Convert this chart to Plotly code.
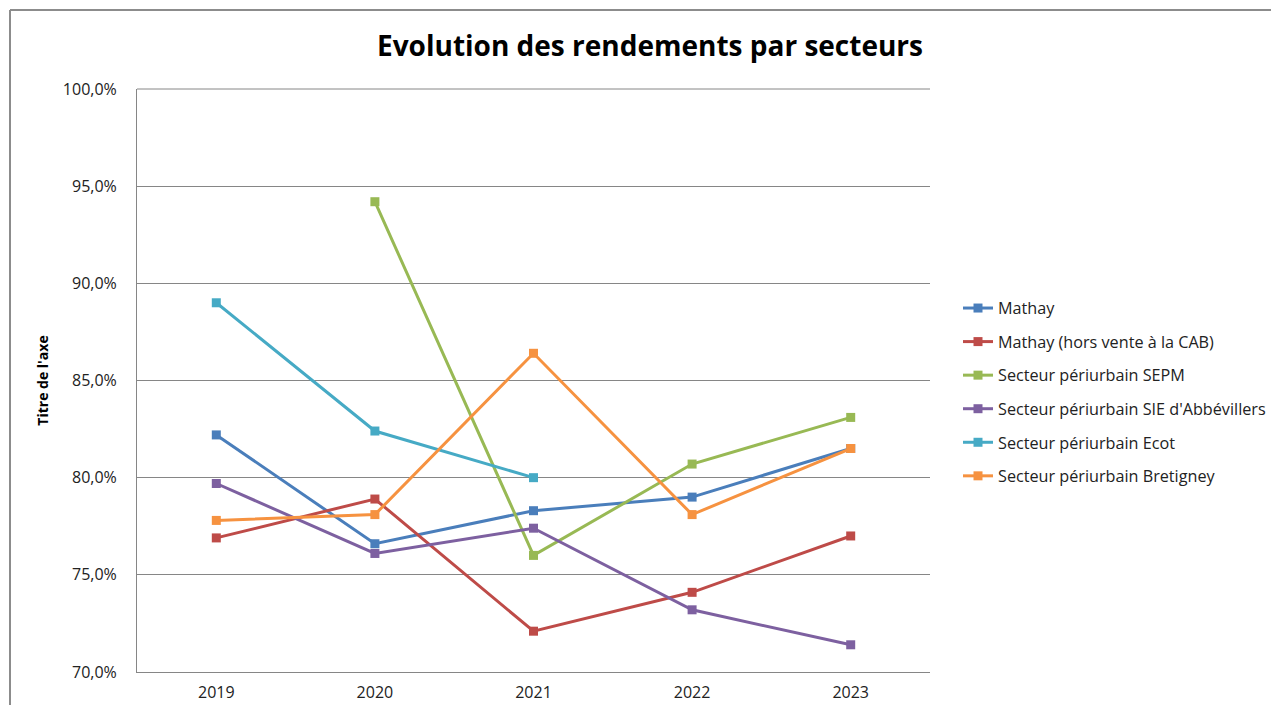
import plotly.graph_objects as go

years = ["2019", "2020", "2021", "2022", "2023"]
mathay = [0.822, 0.766, 0.783, 0.790, 0.815]
mathay_hors = [0.769, 0.789, 0.721, 0.741, 0.770]
sepm = [None, 0.942, 0.760, 0.807, 0.831]
sie = [0.797, 0.761, 0.774, 0.732, 0.714]
ecot = [0.890, 0.824, 0.800, None, None]
bretigney = [0.778, 0.781, 0.864, 0.781, 0.815]

series = [
    ("Mathay", mathay, "#4A7EBB"),
    ("Mathay (hors vente à la CAB)", mathay_hors, "#BE4B48"),
    ("Secteur périurbain SEPM", sepm, "#98B954"),
    ("Secteur périurbain SIE d'Abbévillers", sie, "#7D60A0"),
    ("Secteur périurbain Ecot", ecot, "#46AAC5"),
    ("Secteur périurbain Bretigney", bretigney, "#F69240"),
]

fig = go.Figure()
for i, (name, vals, col) in enumerate(series):
    fig.add_trace(go.Scatter(
        x=years, y=vals, name=name, mode="lines+markers",
        line=dict(color=col, width=3),
        marker=dict(symbol="square", size=9, color=col),
        legendgroup=str(i),
    ))

# page body has an 8px margin: figure coordinates = screen - 8
OFF = 8
W, H = 1263, 697
L, T = 137 - OFF, 89 - OFF
R = W - (930 - OFF)
B = H - (672 - OFF)
pw, ph = W - L - R, H - T - B

def px(sx):
    return (sx - OFF - L) / pw

def py(sy):
    return 1 - (sy - OFF - T) / ph

fig.update_layout(
    width=W, height=H,
    margin=dict(l=L, r=R, t=T, b=B, autoexpand=False),
    paper_bgcolor="white", plot_bgcolor="white",
    separators=", ",
    font=dict(family="Open Sans, Liberation Sans, sans-serif", size=16, color="#222"),
    title=dict(text="<b>Evolution des rendements par secteurs</b>",
               x=(650 - OFF) / W, xanchor="center", y=1 - (46 - OFF) / H, yanchor="middle",
               font=dict(size=28, color="black")),
    showlegend=True,
    legend=dict(x=px(958), xanchor="left", y=py(291), yanchor="top",
                font=dict(size=16.2, color="#222"), tracegroupgap=9.5,
                bgcolor="rgba(0,0,0,0)"),
    xaxis=dict(type="category", range=[-0.5, 4.5], showgrid=False, automargin=False,
               showline=True, linecolor="#868686", linewidth=1,
               ticks="", ticklabelstandoff=6, tickfont=dict(size=16, color="#222"),
               zeroline=False),
    yaxis=dict(range=[0.70, 1.0], dtick=0.05, tickformat=".1%", automargin=False,
               showgrid=True, gridcolor="#868686", gridwidth=1,
               showline=True, linecolor="#868686", linewidth=1,
               zeroline=False, ticks="", ticklabelstandoff=16,
               tickfont=dict(size=16, color="#222"),
               title=dict(text="<b>Titre de l'axe</b>", font=dict(size=14, color="black"),
                          standoff=10)),
    shapes=[
        dict(type="line", xref="paper", yref="paper",
             x0=px(10), x1=px(1300), y0=py(10), y1=py(10),
             line=dict(color="#8c8c8c", width=2)),
        dict(type="line", xref="paper", yref="paper",
             x0=px(10), x1=px(10), y0=py(10), y1=py(740),
             line=dict(color="#8c8c8c", width=2)),
        dict(type="line", xref="paper", yref="paper",
             x0=0, x1=1, y0=1, y1=1,
             line=dict(color="#868686", width=1)),
    ],
)

fig.write_html("out.html")
